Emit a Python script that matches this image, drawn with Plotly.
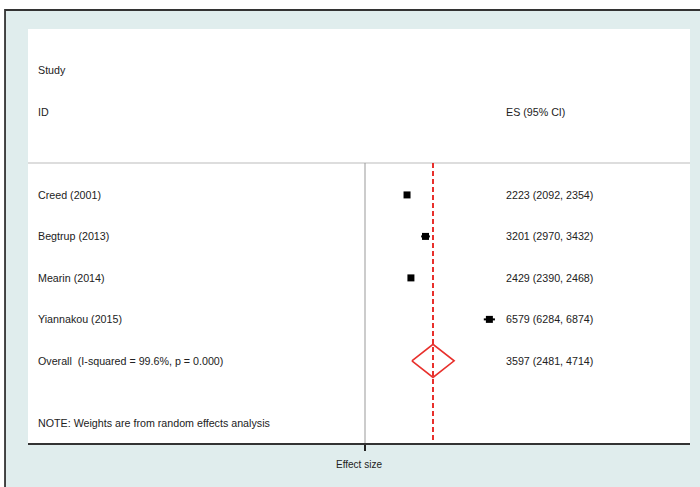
import plotly.graph_objects as go

# ---- data ----
studies = ["Creed (2001)", "Begtrup (2013)", "Mearin (2014)", "Yiannakou (2015)"]
es = [2223, 3201, 2429, 6579]
ci_low = [2092, 2970, 2390, 6284]
ci_high = [2354, 3432, 2468, 6874]
overall_es = 3597
overall_low = 2481
overall_high = 4714
i_squared = 99.6
p_value = 0.000
note = "NOTE: Weights are from random effects analysis"

study_rows = [3, 4, 5, 6]
overall_row = 7

FONT = "Liberation Sans, Arial, sans-serif"
TXT = "#222222"
RED = "#e8302c"
BG = "#e0eded"

fig = go.Figure()

# study estimates with CIs
fig.add_trace(go.Scatter(
    x=es, y=study_rows, mode="markers",
    marker=dict(symbol="square", size=7, color="black"),
    error_x=dict(type="data", symmetric=False,
                 array=[h - e for h, e in zip(ci_high, es)],
                 arrayminus=[e - l for e, l in zip(es, ci_low)],
                 color="black", thickness=2, width=0),
    showlegend=False, hoverinfo="skip"))

# overall diamond
dh = 0.4
fig.add_trace(go.Scatter(
    x=[overall_low, overall_es, overall_high, overall_es, overall_low],
    y=[overall_row, overall_row - dh, overall_row, overall_row + dh, overall_row],
    mode="lines", line=dict(color=RED, width=1.6),
    showlegend=False, hoverinfo="skip"))

sep_row = 2.23
y_bottom = 8.98

fx = -0.0347   # frame left (paper)
fy = 1.0459    # frame top (paper)

shapes = [
    # outer graph region with frame
    dict(type="rect", xref="paper", yref="paper", x0=fx, x1=1.2, y0=-0.3, y1=fy,
         fillcolor=BG, line=dict(color="#333333", width=1.8), layer="below"),
    # white plot region
    dict(type="rect", xref="paper", yref="paper", x0=0, x1=1, y0=0, y1=1,
         fillcolor="white", line=dict(width=0), layer="below"),
    # header separator
    dict(type="line", xref="paper", yref="y", x0=0, x1=1, y0=sep_row, y1=sep_row,
         line=dict(color="#bbbbbb", width=1.2)),
    # null line
    dict(type="line", xref="x", yref="y", x0=0, x1=0, y0=sep_row, y1=y_bottom,
         line=dict(color="#999999", width=1)),
    # overall estimate line
    dict(type="line", xref="x", yref="y", x0=overall_es, x1=overall_es, y0=sep_row, y1=y_bottom,
         line=dict(color=RED, width=2, dash="5px,3px")),
]

annotations = []
def add_text(x, y, text):
    annotations.append(dict(x=x, y=y, xref="paper", yref="y", text=text, showarrow=False,
                            xanchor="left", yanchor="middle",
                            font=dict(family=FONT, size=10.7, color=TXT)))

label_x = 0.0121
es_x = 0.719
add_text(label_x, 0, "Study")
add_text(label_x, 1, "ID")
add_text(es_x, 1, "ES (95% CI)")
for s, r, e, l, h in zip(studies, study_rows, es, ci_low, ci_high):
    add_text(label_x, r, s)
    add_text(es_x, r, f"{e} ({l}, {h})")
add_text(label_x, overall_row, f"Overall  (I-squared = {i_squared:.1f}%, p = {p_value:.3f})")
add_text(es_x, overall_row, f"{overall_es} ({overall_low}, {overall_high})")
add_text(label_x, 8.49, note)

fig.update_layout(
    width=700, height=487,
    margin=dict(l=28, r=10, t=29, b=44),
    paper_bgcolor="white",
    plot_bgcolor="rgba(0,0,0,0)",
    shapes=shapes,
    annotations=annotations,
    font=dict(family=FONT, color=TXT),
    xaxis=dict(range=[-17826, 17191], showgrid=False, zeroline=False,
               showline=True, linecolor="#333333", linewidth=1.5,
               ticks="outside", tickvals=[0], ticklen=6, tickwidth=2, tickcolor="#222222",
               showticklabels=False,
               title=dict(text="Effect size", font=dict(family=FONT, size=10, color=TXT), standoff=11)),
    yaxis=dict(range=[y_bottom, -1.0], showgrid=False, zeroline=False, showline=False,
               showticklabels=False, ticks=""),
)

fig.write_html("out.html", config={"displayModeBar": False},
               post_script="document.body.style.margin='0';")
